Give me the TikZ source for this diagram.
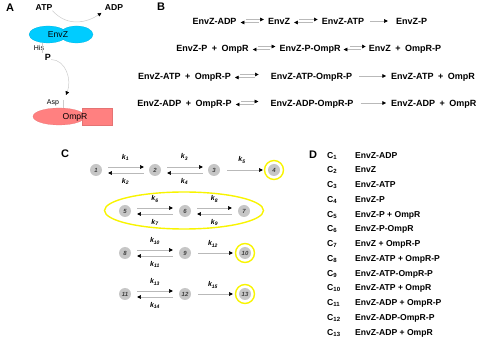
\documentclass[tikz,border=0pt]{standalone}
\usepackage{fontspec}
\setmainfont{Liberation Sans}
\usepackage{tikz}
\usetikzlibrary{shapes.geometric, arrows.meta, positioning}
\definecolor{envzcyan}{RGB}{0,204,255}
\definecolor{omprpink}{RGB}{255,128,128}
\definecolor{ringyellow}{RGB}{248,244,0}
\newcommand{\rplus}{\hspace{0.5em}+\hspace{0.5em}}
\tikzset{
  panel_label/.style={font=\fontsize{11}{12}\selectfont\bfseries, inner sep=0pt},
  species_text/.style={font=\fontsize{9}{10}\selectfont\bfseries, inner sep=0pt, text height=6.4pt, text depth=0pt},
  list_key/.style={font=\fontsize{8.6}{10}\selectfont\bfseries, inner sep=0pt, anchor=west, text height=6.2pt, text depth=0pt},
  list_text/.style={font=\fontsize{8.6}{10}\selectfont\bfseries, inner sep=0pt, anchor=west, text height=6.2pt, text depth=0pt},
  mol_text/.style={font=\fontsize{8.6}{10}\selectfont, inner sep=0pt},
  site_text/.style={font=\fontsize{7}{8}\selectfont, inner sep=0pt},
  envz_lobe/.style={ellipse, fill=envzcyan, draw=envzcyan!85!black, line width=0.2pt, minimum height=17pt, inner sep=0pt},
  ompr_body/.style={fill=omprpink, draw=omprpink!90!black, line width=0.2pt, minimum height=17pt, inner sep=0pt},
  state_node/.style={circle, fill=gray!45, minimum size=12pt, inner sep=0pt, text=black!75, font=\fontsize{6}{7}\selectfont\bfseries\itshape},
  ring_mark/.style={circle, draw=ringyellow, line width=1.4pt, minimum size=19pt, inner sep=0pt},
  group_ring/.style={ellipse, draw=ringyellow, line width=1.4pt, minimum width=159pt, minimum height=37pt, inner sep=0pt},
  rate_label/.style={font=\fontsize{7}{8}\selectfont\bfseries\itshape, inner sep=0pt},
  fwd_arrow/.style={draw=gray!55, line width=0.5pt, -{Triangle[color=black, length=3.6pt, width=3.6pt]}},
  stub_line/.style={draw=gray!55, line width=0.5pt}
}

\begin{document}
\begin{tikzpicture}[x=1pt, y=-1pt]
    \useasboundingbox (0,0) rectangle (479,352);

    % Panel A: EnvZ autophosphorylation and transfer to OmpR
    \node[panel_label] (labA) at (10,8) {A};
    \node[mol_text, font=\fontsize{8.6}{10}\selectfont\bfseries] (atp) at (44,7.5) {ATP};
    \node[mol_text, font=\fontsize{8.6}{10}\selectfont\bfseries] (adp) at (114,7.5) {ADP};
    \node[envz_lobe, minimum width=38pt] (envzL) at (48,34.5) {};
    \node[envz_lobe, minimum width=33pt] (envzR) at (76.5,34.5) {};
    \node[mol_text] (envz) at (58,34.5) {EnvZ};
    \node[site_text] (his) at (39,48.5) {His};
    \node[mol_text, font=\fontsize{9}{10}\selectfont\bfseries] (pnode) at (48,57.5) {P};
    \coordinate (hisEnd) at (42,53);
    \coordinate (aspTip) at (66,95);
    \node[site_text] (asp) at (53,102.5) {Asp};
    \coordinate (aspTop) at (63,100);
    \node[ompr_body, ellipse, minimum width=52pt] (omprL) at (59,116.5) {};
    \node[ompr_body, rectangle, minimum width=30pt] (omprR) at (97,116.5) {};
    \node[mol_text] (ompr) at (75,117) {OmpR};

    \draw[fwd_arrow, draw=gray!40, shorten >=4pt] (atp.south east) .. controls (68,28) and (88,22) .. (adp.south west);
    \draw[stub_line, draw=gray!40] ([xshift=-6pt]envzL.south) -- (hisEnd);
    \draw[fwd_arrow, draw=gray!40] ([yshift=-2pt]pnode.east) .. controls (66,60) and (72,80) .. (aspTip);
    \draw[stub_line, draw=gray!40] (aspTop) -- ([xshift=4pt]omprL.north);

    % Panel B: reactions
    \node[panel_label] (labB) at (161,7) {B};

    \node[species_text] (r1a) at (214.5,21) {EnvZ-ADP};
    \node[species_text] (r1b) at (279,21) {EnvZ};
    \node[species_text] (r1c) at (343,21) {EnvZ-ATP};
    \node[species_text] (r1d) at (411.5,21) {EnvZ-P};
    \draw[fwd_arrow, shorten <=9pt, shorten >=4pt] ([yshift=1.5pt]r1a.east) -- ([yshift=1.5pt]r1b.west);
    \draw[fwd_arrow, shorten <=9pt, shorten >=4pt] ([yshift=-1.5pt]r1b.west) -- ([yshift=-1.5pt]r1a.east);
    \draw[fwd_arrow, shorten <=9pt, shorten >=4pt] ([yshift=1.5pt]r1b.east) -- ([yshift=1.5pt]r1c.west);
    \draw[fwd_arrow, shorten <=9pt, shorten >=4pt] ([yshift=-1.5pt]r1c.west) -- ([yshift=-1.5pt]r1b.east);
    \draw[fwd_arrow, shorten <=6pt, shorten >=8pt] (r1c.east) -- (r1d.west);

    \node[species_text] (r2a) at (212.5,48) {EnvZ-P\rplus OmpR};
    \node[species_text] (r2b) at (310,48) {EnvZ-P-OmpR};
    \node[species_text] (r2c) at (405,48) {EnvZ\rplus OmpR-P};
    \draw[fwd_arrow, shorten <=9pt, shorten >=4pt] ([yshift=1.5pt]r2a.east) -- ([yshift=1.5pt]r2b.west);
    \draw[fwd_arrow, shorten <=9pt, shorten >=4pt] ([yshift=-1.5pt]r2b.west) -- ([yshift=-1.5pt]r2a.east);
    \draw[fwd_arrow, shorten <=9pt, shorten >=3pt] ([yshift=1.5pt]r2b.east) -- ([yshift=1.5pt]r2c.west);
    \draw[fwd_arrow, shorten <=8pt, shorten >=3pt] ([yshift=-1.5pt]r2c.west) -- ([yshift=-1.5pt]r2b.east);

    \node[species_text] (r3a) at (184.5,76) {EnvZ-ATP\rplus OmpR-P};
    \node[species_text] (r3b) at (311.5,76) {EnvZ-ATP-OmpR-P};
    \node[species_text, anchor=west] (r3c) at (391,76) {EnvZ-ATP\rplus OmpR};
    \draw[fwd_arrow, shorten <=9pt, shorten >=12pt] ([yshift=1.5pt]r3a.east) -- ([yshift=1.5pt]r3b.west);
    \draw[fwd_arrow, shorten <=16pt, shorten >=4pt] ([yshift=-1.5pt]r3b.west) -- ([yshift=-1.5pt]r3a.east);
    \draw[fwd_arrow, shorten <=7pt, shorten >=5pt] (r3b.east) -- (r3c.west);

    \node[species_text] (r4a) at (184.5,103) {EnvZ-ADP\rplus OmpR-P};
    \node[species_text] (r4b) at (312,103) {EnvZ-ADP-OmpR-P};
    \node[species_text, anchor=west] (r4c) at (391,103) {EnvZ-ADP\rplus OmpR};
    \draw[fwd_arrow, shorten <=9pt, shorten >=12pt] ([yshift=1.5pt]r4a.east) -- ([yshift=1.5pt]r4b.west);
    \draw[fwd_arrow, shorten <=16pt, shorten >=4pt] ([yshift=-1.5pt]r4b.west) -- ([yshift=-1.5pt]r4a.east);
    \draw[fwd_arrow, shorten <=7pt, shorten >=5pt] (r4b.east) -- (r4c.west);

    % Panel C: state network
    \node[panel_label] (labC) at (65,154) {C};

    \node[state_node] (n1) at (96,170) {1};
    \node[state_node] (n2) at (155,170) {2};
    \node[state_node] (n3) at (214,170) {3};
    \node[state_node] (n4) at (274,170) {4};
    \node[ring_mark] (ring4) at (274,170) {};
    \draw[fwd_arrow, shorten <=6pt, shorten >=5pt] ([yshift=3pt]n1.east) -- ([yshift=3pt]n2.west) node[rate_label, midway, yshift=10pt] {k\textsubscript{1}};
    \draw[fwd_arrow, shorten <=5pt, shorten >=6pt] ([yshift=-3pt]n2.west) -- ([yshift=-3pt]n1.east) node[rate_label, midway, yshift=-8.5pt] {k\textsubscript{2}};
    \draw[fwd_arrow, shorten <=6pt, shorten >=5pt] ([yshift=3pt]n2.east) -- ([yshift=3pt]n3.west) node[rate_label, midway, yshift=10pt] {k\textsubscript{3}};
    \draw[fwd_arrow, shorten <=5pt, shorten >=6pt] ([yshift=-3pt]n3.west) -- ([yshift=-3pt]n2.east) node[rate_label, midway, yshift=-8.5pt] {k\textsubscript{4}};
    \draw[fwd_arrow, shorten <=7pt, shorten >=1pt] (n3) -- (ring4) node[rate_label, midway, yshift=10pt] {k\textsubscript{5}};

    \node[state_node] (n5) at (125,211) {5};
    \node[state_node] (n6) at (185,211) {6};
    \node[state_node] (n7) at (244,211) {7};
    \node[group_ring] (grp) at (184,210.5) {};
    \draw[fwd_arrow, shorten <=6pt, shorten >=6pt] ([yshift=3pt]n5.east) -- ([yshift=3pt]n6.west) node[rate_label, midway, yshift=9pt] {k\textsubscript{6}};
    \draw[fwd_arrow, shorten <=6pt, shorten >=6pt] ([yshift=-3pt]n6.west) -- ([yshift=-3pt]n5.east) node[rate_label, midway, yshift=-8.5pt] {k\textsubscript{7}};
    \draw[fwd_arrow, shorten <=6pt, shorten >=6pt] ([yshift=3pt]n6.east) -- ([yshift=3pt]n7.west) node[rate_label, midway, yshift=9pt] {k\textsubscript{8}};
    \draw[fwd_arrow, shorten <=6pt, shorten >=6pt] ([yshift=-3pt]n7.west) -- ([yshift=-3pt]n6.east) node[rate_label, midway, yshift=-8.5pt] {k\textsubscript{9}};

    \node[state_node] (n8) at (125,253) {8};
    \node[state_node] (n9) at (185,253) {9};
    \node[state_node] (n10) at (245,253) {10};
    \node[ring_mark] (ring10) at (245,253) {};
    \draw[fwd_arrow, shorten <=6pt, shorten >=6pt] ([yshift=3pt]n8.east) -- ([yshift=3pt]n9.west) node[rate_label, midway, yshift=9pt] {k\textsubscript{10}};
    \draw[fwd_arrow, shorten <=6pt, shorten >=6pt] ([yshift=-3pt]n9.west) -- ([yshift=-3pt]n8.east) node[rate_label, midway, yshift=-8.5pt] {k\textsubscript{11}};
    \draw[fwd_arrow, shorten <=7pt, shorten >=2pt] (n9) -- (ring10) node[rate_label, midway, yshift=9pt] {k\textsubscript{12}};

    \node[state_node] (n11) at (125,294) {11};
    \node[state_node] (n12) at (185,294) {12};
    \node[state_node] (n13) at (245,294) {13};
    \node[ring_mark] (ring13) at (245,294) {};
    \draw[fwd_arrow, shorten <=6pt, shorten >=6pt] ([yshift=3pt]n11.east) -- ([yshift=3pt]n12.west) node[rate_label, midway, yshift=9pt] {k\textsubscript{13}};
    \draw[fwd_arrow, shorten <=6pt, shorten >=6pt] ([yshift=-3pt]n12.west) -- ([yshift=-3pt]n11.east) node[rate_label, midway, yshift=-8.5pt] {k\textsubscript{14}};
    \draw[fwd_arrow, shorten <=7pt, shorten >=2pt] (n12) -- (ring13) node[rate_label, midway, yshift=9pt] {k\textsubscript{15}};

    % Panel D: legend of states
    \node[panel_label] (labD) at (313,155) {D};
    \node[list_key] (key1) at (327,155) {C\textsubscript{1}};
    \node[list_text] (txt1) at (355,155) {EnvZ-ADP};
    \node[list_key] (key2) at (327,169.75) {C\textsubscript{2}};
    \node[list_text] (txt2) at (355,169.75) {EnvZ};
    \node[list_key] (key3) at (327,184.5) {C\textsubscript{3}};
    \node[list_text] (txt3) at (355,184.5) {EnvZ-ATP};
    \node[list_key] (key4) at (327,199.25) {C\textsubscript{4}};
    \node[list_text] (txt4) at (355,199.25) {EnvZ-P};
    \node[list_key] (key5) at (327,214) {C\textsubscript{5}};
    \node[list_text] (txt5) at (355,214) {EnvZ-P + OmpR};
    \node[list_key] (key6) at (327,228.75) {C\textsubscript{6}};
    \node[list_text] (txt6) at (355,228.75) {EnvZ-P-OmpR};
    \node[list_key] (key7) at (327,243.5) {C\textsubscript{7}};
    \node[list_text] (txt7) at (355,243.5) {EnvZ + OmpR-P};
    \node[list_key] (key8) at (327,258.25) {C\textsubscript{8}};
    \node[list_text] (txt8) at (355,258.25) {EnvZ-ATP + OmpR-P};
    \node[list_key] (key9) at (327,273) {C\textsubscript{9}};
    \node[list_text] (txt9) at (355,273) {EnvZ-ATP-OmpR-P};
    \node[list_key] (key10) at (327,287.75) {C\textsubscript{10}};
    \node[list_text] (txt10) at (355,287.75) {EnvZ-ATP + OmpR};
    \node[list_key] (key11) at (327,302.5) {C\textsubscript{11}};
    \node[list_text] (txt11) at (355,302.5) {EnvZ-ADP + OmpR-P};
    \node[list_key] (key12) at (327,317.25) {C\textsubscript{12}};
    \node[list_text] (txt12) at (355,317.25) {EnvZ-ADP-OmpR-P};
    \node[list_key] (key13) at (327,332) {C\textsubscript{13}};
    \node[list_text] (txt13) at (355,332) {EnvZ-ADP + OmpR};
\end{tikzpicture}
\end{document}
